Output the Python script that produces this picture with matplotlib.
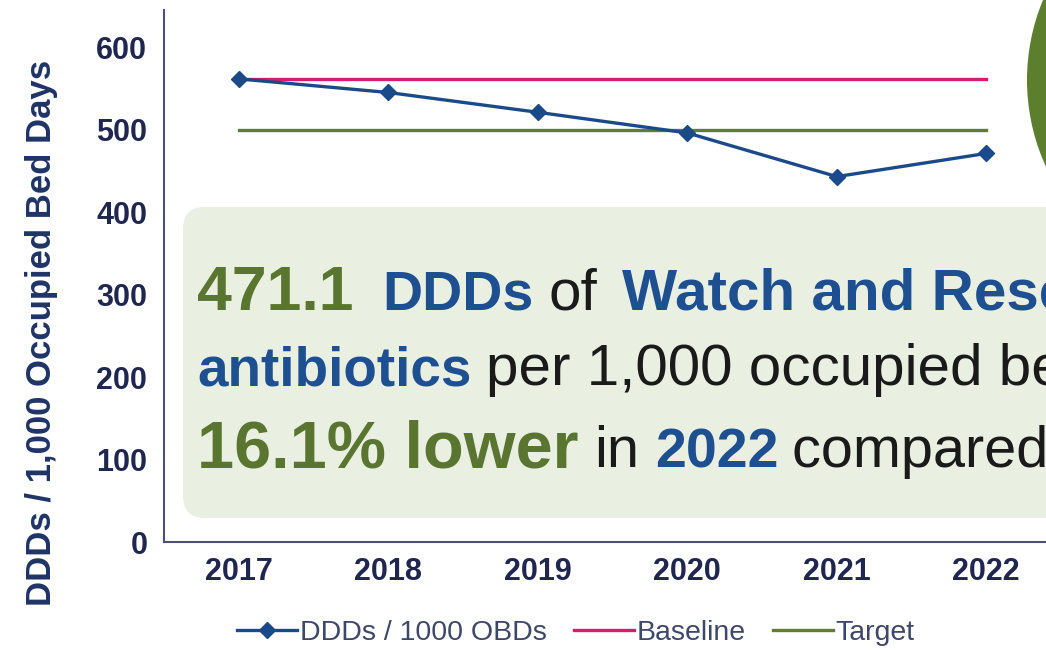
import matplotlib
matplotlib.use("Agg")
import matplotlib.pyplot as plt
from matplotlib.patches import FancyBboxPatch, Circle
from matplotlib.transforms import IdentityTransform

plt.rcParams['font.family'] = ['Liberation Sans', 'DejaVu Sans']

# data
years = ['2017', '2018', '2019', '2020', '2021', '2022']
ddd_per_1000 = [561.5, 545, 521, 496, 443, 471.1]
baseline = [561.5] * 6
target = [500] * 6
yticks = [0, 100, 200, 300, 400, 500, 600]

navy = '#1b4a8a'
pink = '#d81b72'
olive = '#5f7d34'
label_col = '#1f2750'

fig = plt.figure(figsize=(10.46, 6.5), dpi=100)
ax = fig.add_axes([164/1046, 108/650, 897/1046, 532/650])

x = range(len(years))
ax.plot(x, ddd_per_1000, color=navy, lw=2.4, marker='D', ms=8, label='DDDs / 1000 OBDs', zorder=3)
ax.plot(x, baseline, color=pink, lw=2.4, label='Baseline', zorder=2)
ax.plot(x, target, color=olive, lw=2.4, label='Target', zorder=2)

ax.set_xlim(-0.5, 5.5)
ax.set_ylim(0, 645)
ax.set_xticks(list(x))
ax.set_xticklabels(years)
ax.set_yticks(yticks)
ax.tick_params(length=0, labelsize=22, labelcolor=label_col)
ax.tick_params(axis='y', pad=12)
ax.tick_params(axis='x', pad=11)
for lab in ax.get_xticklabels() + ax.get_yticklabels():
    lab.set_fontweight('bold')
for s in ['top', 'right']:
    ax.spines[s].set_visible(False)
for s in ['left', 'bottom']:
    ax.spines[s].set_color('#4b5275')
    ax.spines[s].set_linewidth(1.5)

ax.set_ylabel('DDDs / 1,000 Occupied Bed Days', fontsize=25, fontweight='bold', color='#1f3466')
ax.yaxis.set_label_coords(-0.118, 0.393)

fig.legend(loc='center', bbox_to_anchor=(576/1046, 17/650), ncol=3, frameon=False,
           fontsize=20.5, handlelength=2.1, handletextpad=0.1, columnspacing=0.95,
           labelcolor='#3d4768')

# highlight box over the lower part of the chart
px = IdentityTransform()
box = FancyBboxPatch((183, 132), 1000, 311, boxstyle='round,pad=0,rounding_size=22',
                     transform=px, facecolor='#e9f0e1', edgecolor='none')
fig.add_artist(box)

# green disc at the top right corner
fig.add_artist(Circle((1235, 570), 208, transform=px, facecolor='#5b7f2c', edgecolor='none'))

green_txt = '#5a7530'
blue_txt = '#1d4f91'
black_txt = '#1a1a1a'
renderer = fig.canvas.get_renderer()


def write_line(y, parts):
    # parts: (text, size, weight, colour, pixel gap before the next piece)
    xpos = 197
    for s, size, weight, color, gap in parts:
        t = fig.text(xpos, y, s, transform=px, fontsize=size, fontweight=weight,
                     color=color, ha='left', va='baseline')
        bb = t.get_window_extent(renderer)
        xpos = bb.x1 + gap


write_line(650 - 310, [('471.1', 45, 'bold', green_txt, 29),
                       ('DDDs', 40, 'bold', blue_txt, 15),
                       ('of', 42, 'normal', black_txt, 25),
                       ('Watch and Reserve', 42, 'bold', blue_txt, 0)])
write_line(650 - 385, [('antibiotics', 39.5, 'bold', blue_txt, 15),
                       ('per 1,000 occupied bed days', 42, 'normal', black_txt, 0)])
write_line(650 - 467, [('16.1% lower', 48, 'bold', green_txt, 16),
                       ('in', 41.5, 'normal', black_txt, 16),
                       ('2022', 40, 'bold', blue_txt, 13),
                       ('compared to 2017', 41.5, 'normal', black_txt, 0)])

fig.savefig('out.png', dpi=100)
